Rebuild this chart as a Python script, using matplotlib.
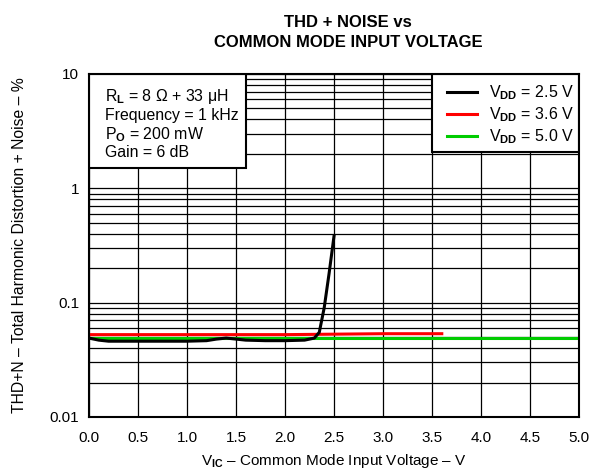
import matplotlib
matplotlib.use('Agg')
import matplotlib.pyplot as plt
from matplotlib.patches import Rectangle
import numpy as np

plt.rcParams['font.family'] = ['Liberation Sans', 'DejaVu Sans']
plt.rcParams['mathtext.fontset'] = 'custom'
plt.rcParams['mathtext.rm'] = 'Liberation Sans'
plt.rcParams['mathtext.it'] = 'Liberation Sans:italic'
plt.rcParams['mathtext.bf'] = 'Liberation Sans:bold'

# V_DD = 2.5 V
vic_25 = [0.0, 0.1, 0.2, 0.5, 1.0, 1.2, 1.3, 1.4, 1.5, 1.6, 1.8, 2.0, 2.2, 2.3, 2.35, 2.4, 2.45, 2.5]
thd_25 = [0.049, 0.047, 0.046, 0.046, 0.046, 0.0465, 0.048, 0.049, 0.048, 0.047, 0.0465, 0.0465, 0.047, 0.049, 0.055, 0.09, 0.18, 0.38]
# V_DD = 3.6 V
vic_36 = [0.0, 0.5, 1.0, 1.5, 2.0, 2.5, 3.0, 3.6]
thd_36 = [0.0525, 0.0525, 0.0525, 0.0525, 0.0525, 0.053, 0.0535, 0.0535]
# V_DD = 5.0 V
vic_50 = [0.0, 0.5, 1.0, 1.5, 2.0, 2.5, 3.0, 3.5, 4.0, 4.5, 5.0]
thd_50 = [0.0495, 0.0495, 0.0495, 0.0495, 0.0495, 0.0495, 0.0495, 0.0495, 0.0495, 0.0495, 0.0495]

xticks = [0.0, 0.5, 1.0, 1.5, 2.0, 2.5, 3.0, 3.5, 4.0, 4.5, 5.0]

fig = plt.figure(figsize=(5.98, 4.74), dpi=100)
ax = fig.add_axes([0.1488, 0.1203, 0.8194, 0.7236])

ax.plot(vic_25, thd_25, color='black', lw=2.2, label=r'V$_{\mathbf{DD}}$ = 2.5 V', zorder=4)
ax.plot(vic_36, thd_36, color='#ff0000', lw=2.2, label=r'V$_{\mathbf{DD}}$ = 3.6 V', zorder=3)
ax.plot(vic_50, thd_50, color='#00cc00', lw=2.2, label=r'V$_{\mathbf{DD}}$ = 5.0 V', zorder=3)

ax.set_yscale('log')
ax.set_ylim(0.01, 10)
ax.set_xlim(0, 5)
ax.set_xticks(xticks)
ax.set_xticklabels(['%.1f' % v for v in xticks])
ax.set_yticks([0.01, 0.1, 1, 10])
ax.set_yticklabels(['0.01', '0.1', '1', '10'])
ax.yaxis.set_minor_formatter(matplotlib.ticker.NullFormatter())
ax.tick_params(which='both', length=0, labelsize=11)
ax.tick_params(axis='x', pad=10)
ax.tick_params(axis='y', pad=7)

ax.grid(True, which='major', color='black', lw=0.9)
ax.grid(True, which='minor', axis='y', color='black', lw=0.9)
for s in ax.spines.values():
    s.set_linewidth(1.5)
    s.set_zorder(8)

ax.set_xlabel(r'V$_{\mathbf{IC}}$ – Common Mode Input Voltage – V', fontsize=11)
ax.xaxis.set_label_coords(0.5, -0.103)
ax.set_ylabel('THD+N – Total Harmonic Distortion + Noise – %', fontsize=11.3)
ax.yaxis.set_label_coords(-0.127, 0.5)
fig.text(0.582, 0.932, 'THD + NOISE vs\nCOMMON MODE INPUT VOLTAGE', ha='center', va='center',
         fontsize=12, fontweight='bold', linespacing=1.4)

# conditions box
ax.add_patch(Rectangle((0, 0.726), 0.32, 0.274, transform=ax.transAxes,
                       fc='white', ec='black', lw=1.5, zorder=5))
ax.text(0.032, 0.963,
        'R$_\\mathbf{L}$ = 8 Ω + 33 μH\nFrequency = 1 kHz\nP$_\\mathbf{O}$ = 200 mW\nGain = 6 dB',
        transform=ax.transAxes, ha='left', va='top', fontsize=11.4, linespacing=1.16, zorder=6)

# legend box
ax.add_patch(Rectangle((0.7, 0.7726), 0.3, 0.2274, transform=ax.transAxes,
                       fc='white', ec='black', lw=1.5, zorder=5))
leg = ax.legend(loc='upper left', bbox_to_anchor=(0.73, 0.972), fontsize=11.5, frameon=False,
                handlelength=1.88, borderpad=0, labelspacing=0.2, borderaxespad=0,
                handletextpad=0.8)
leg.set_zorder(6)

fig.savefig('out.png', dpi=100)
